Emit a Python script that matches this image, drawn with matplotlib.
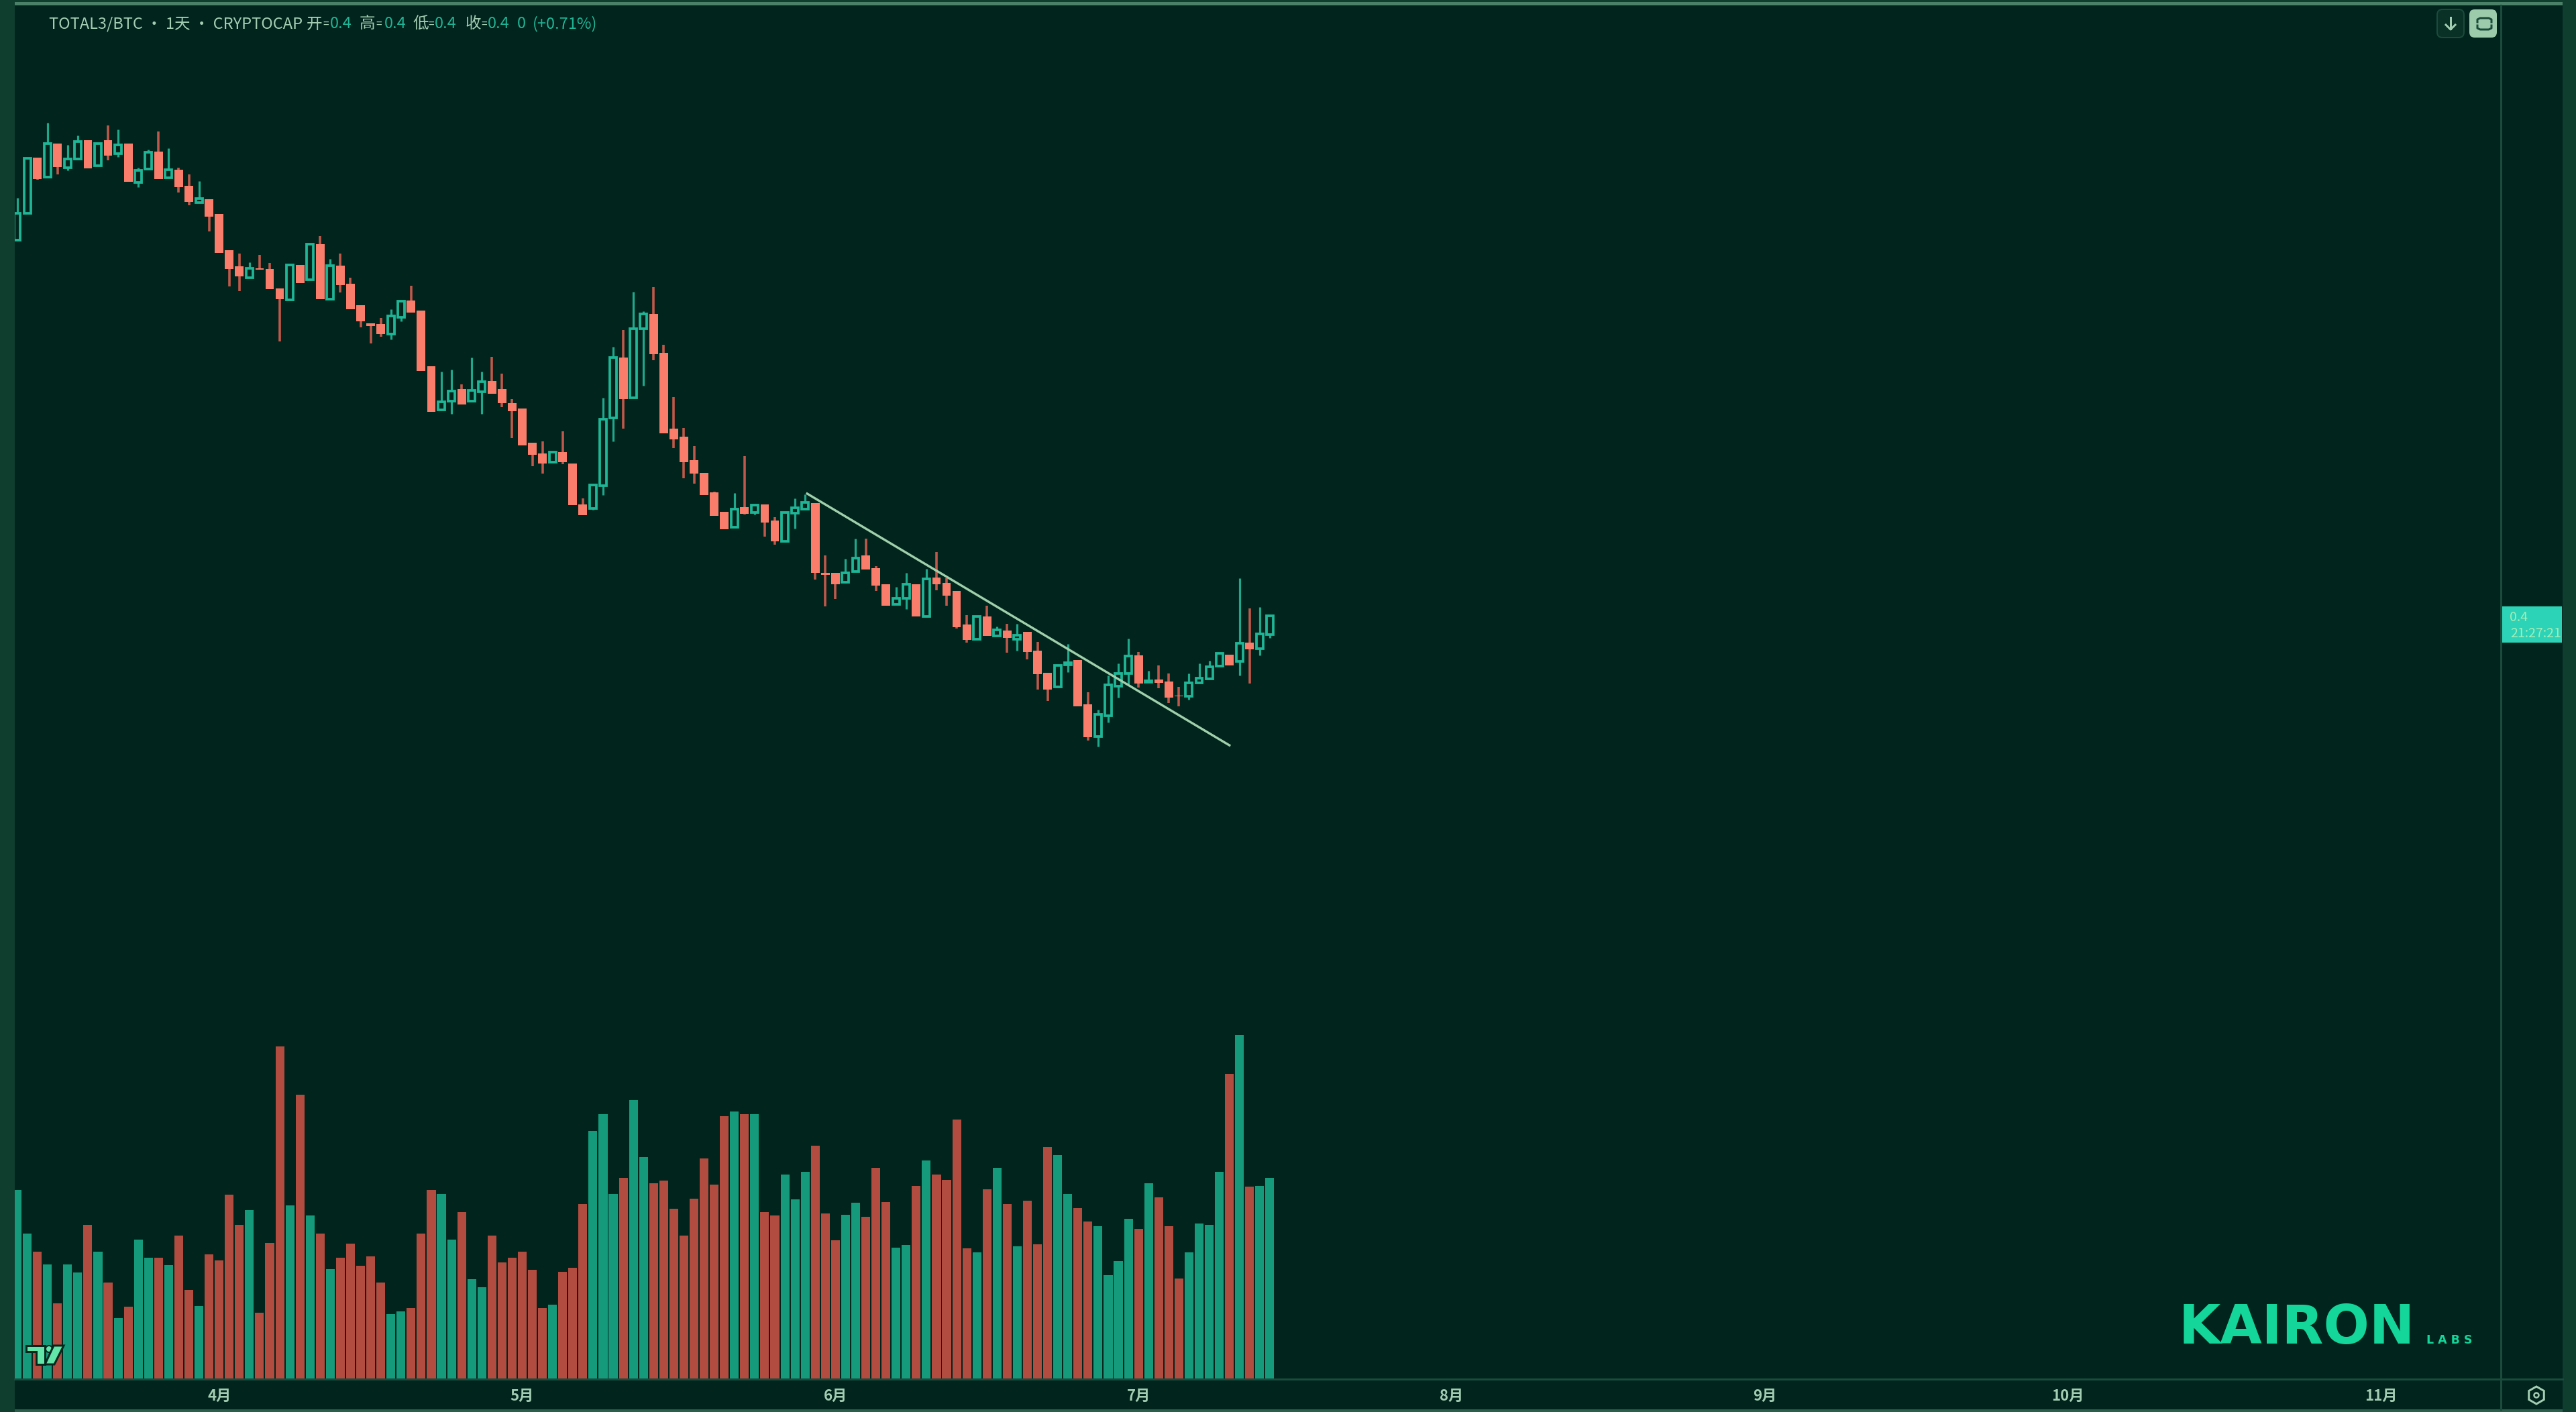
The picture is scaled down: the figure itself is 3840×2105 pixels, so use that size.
import matplotlib
matplotlib.use("Agg")
import matplotlib.pyplot as plt
from matplotlib.patches import Rectangle, FancyBboxPatch, Polygon, RegularPolygon, Circle

plt.rcParams['font.family'] = ['Noto Sans CJK SC', 'DejaVu Sans']

# ---- data: ratio in units of 1e-4 -------------------------------------------
open_ = [4572,4612,4695,4666,4716,4680,4693,4721,4683,4721,4701,4716,4658,4678,4704,4665,4677,4653,4628,4633,
         4611,4557,4533,4516,4530,4529,4500,4483,4535,4513,4566,4484,4534,4507,4475,4448,4447,4432,4457,4482,
         4467,4384,4319,4332,4350,4332,4346,4362,4350,4329,4321,4270,4254,4241,4256,4239,4178,4172,4206,4307,
         4397,4337,4440,4462,4404,4291,4279,4244,4225,4196,4167,4144,4174,4166,4178,4154,4123,4165,4171,4180,
         4076,4076,4062,4078,4102,4083,4059,4029,4038,4059,4011,4069,4061,4049,3999,3977,4011,3982,3990,3977,
         3988,3960,3927,3906,3939,3946,3880,3832,3863,3907,3926,3953,3913,3917,3914,3893,3892,3912,3918,3937,
         3954,3944,3972,3963,3984]
high = [4635,4694,4695,4747,4716,4714,4728,4721,4716,4743,4737,4716,4680,4707,4734,4709,4680,4670,4660,4633,
        4611,4557,4552,4539,4550,4538,4500,4535,4535,4566,4578,4544,4552,4516,4475,4448,4456,4469,4481,4504,
        4467,4384,4376,4379,4357,4397,4376,4398,4373,4335,4321,4270,4272,4256,4287,4239,4187,4207,4337,4413,
        4438,4495,4466,4502,4416,4338,4292,4265,4225,4197,4167,4195,4250,4177,4178,4159,4166,4187,4193,4180,
        4102,4076,4097,4127,4127,4086,4059,4055,4076,4059,4082,4107,4068,4049,4013,4011,4027,3996,4000,4000,
        3988,3973,3927,3938,3970,3946,3898,3872,3923,3941,3978,3958,3930,3938,3926,3906,3926,3941,3945,3956,
        3954,4068,4023,4025,4012]
low = [4572,4612,4662,4666,4670,4676,4693,4679,4683,4691,4696,4659,4651,4678,4663,4665,4643,4624,4628,4585,
       4553,4503,4496,4516,4528,4499,4421,4483,4508,4513,4484,4484,4494,4469,4442,4418,4428,4424,4451,4464,
       4377,4316,4319,4313,4327,4332,4313,4343,4323,4277,4266,4235,4224,4241,4238,4177,4162,4170,4192,4272,
       4291,4337,4355,4393,4284,4262,4217,4209,4192,4161,4141,4144,4163,4163,4130,4118,4123,4142,4171,4066,
       4026,4037,4061,4078,4081,4049,4027,4029,4022,4011,4011,4050,4027,3993,3972,3977,3982,3982,3957,3960,
       3947,3902,3885,3906,3928,3877,3826,3817,3853,3890,3910,3905,3913,3904,3882,3877,3887,3912,3918,3937,
       3938,3923,3911,3953,3979]
close = [4612,4694,4663,4716,4681,4693,4719,4679,4716,4698,4714,4659,4676,4703,4663,4677,4651,4629,4634,4607,
         4553,4529,4518,4530,4528,4499,4484,4535,4508,4566,4484,4534,4505,4469,4451,4444,4432,4459,4481,4464,
         4377,4316,4331,4347,4327,4348,4361,4343,4329,4317,4266,4252,4239,4256,4241,4177,4162,4207,4305,4397,
         4335,4440,4462,4402,4284,4275,4241,4224,4192,4161,4141,4171,4164,4177,4151,4123,4166,4173,4181,4076,
         4073,4059,4076,4098,4081,4057,4027,4038,4059,4011,4067,4059,4042,3995,3976,4011,3982,3991,3979,3983,
         3958,3925,3902,3938,3942,3877,3831,3865,3909,3926,3952,3911,3915,3912,3890,3892,3912,3919,3936,3956,
         3938,3971,3962,3985,4012]
volume = [732,562,492,444,292,444,412,597,492,372,235,280,540,470,470,440,555,345,282,482,
          459,712,597,652,257,527,1285,672,1100,632,562,425,470,524,439,474,372,252,262,275,
          562,730,716,540,645,385,354,555,452,470,492,422,275,287,416,429,677,958,1024,716,
          778,1078,858,756,768,659,554,698,854,752,1017,1035,1024,1024,646,632,791,695,800,902,
          641,536,636,682,628,817,685,508,518,747,844,791,769,1004,505,491,734,817,677,513,
          689,522,897,866,716,662,610,592,402,457,619,580,756,702,592,390,491,602,596,800,
          1180,1330,744,747,778]
month_pos = [20, 50, 81, 111, 142, 173, 203, 234]
month_labels = ['4月', '5月', '6月', '7月', '8月', '9月', '10月', '11月']
trend_x = [78.1, 120.1]
trend_y = [4195, 3818]
header_parts = [('TOTAL3/BTC · 1天 · CRYPTOCAP', 73, 'label'), ('开', 457, 'label'), ('=', 481, 'eq'),
                ('0.4', 492, 'value'), ('高', 536, 'label'), ('=', 560, 'eq'), ('0.4', 573, 'value'),
                ('低', 615, 'label'), ('=', 638, 'eq'), ('0.4', 648, 'value'), ('收', 694, 'label'),
                ('=', 717, 'eq'), ('0.4', 727, 'value'), ('0', 771, 'value'), ('(+0.71%)', 794, 'value')]

# ---- style ------------------------------------------------------------------
W, H = 3840, 2105
BG = '#01241C'
BAND = '#0F3D2E'
AXLINE = '#1A4B3C'
UP = '#1FB596'
UP_WICK = '#1FA88C'
DOWN = '#FA7D6C'
DOWN_WICK = '#C0584B'
VOL_UP = '#159B7C'
VOL_DOWN = '#B34C40'
TXT = '#A3CDB2'
L, R, T, B = 22, 3728, 8, 2056
PX_PER_BAR = 15.06
FIRST_BAR_PX = 25.5
PX = 0.72  # points per pixel at dpi 100

fig = plt.figure(figsize=(W / 100, H / 100), dpi=100, facecolor=BG)
rect = [L / W, (H - B) / H, (R - L) / W, (B - T) / H]
xlim = ((L - FIRST_BAR_PX) / PX_PER_BAR, (R - FIRST_BAR_PX) / PX_PER_BAR)

# volume panel
axv = fig.add_axes(rect, facecolor=BG)
axv.set_xlim(*xlim)
axv.set_ylim(0, (B - T) * 2.592)
idx = list(range(len(close)))
vcol = [VOL_UP if c >= o else VOL_DOWN for o, c in zip(open_, close)]
axv.bar(idx, volume, width=0.87, color=vcol, linewidth=0)
for s in axv.spines.values():
    s.set_visible(False)
axv.set_yticks([])
axv.set_xticks(month_pos)
axv.set_xticklabels(month_labels, color=TXT, fontsize=16, fontweight='bold')
axv.tick_params(axis='x', length=0, pad=10)

# price panel
ax = fig.add_axes(rect, facecolor='none')
ax.set_xlim(*xlim)
ax.set_ylim(4930 - B, 4930 - T)
ax.axis('off')
up = [i for i in idx if close[i] >= open_[i]]
dn = [i for i in idx if close[i] < open_[i]]
ax.vlines(up, [low[i] for i in up], [high[i] for i in up], color=UP_WICK, lw=3.2 * PX, zorder=2)
ax.vlines(dn, [low[i] for i in dn], [high[i] for i in dn], color=DOWN_WICK, lw=3.6 * PX, zorder=2)
ax.bar(up, [close[i] - open_[i] for i in up], bottom=[open_[i] for i in up], width=0.66,
       facecolor=BG, edgecolor=UP, linewidth=3.8 * PX, zorder=3)
ax.bar(dn, [open_[i] - close[i] for i in dn], bottom=[close[i] for i in dn], width=0.85,
       color=DOWN, linewidth=0, zorder=3)
ax.plot(trend_x, trend_y, color='#A0CFAB', lw=3.4 * PX, solid_capstyle='butt', zorder=4)

# chrome overlay in pixel coordinates
ov = fig.add_axes([0, 0, 1, 1], facecolor='none')
ov.set_xlim(0, W)
ov.set_ylim(H, 0)
ov.axis('off')
ov.add_patch(Rectangle((0, 0), L, H, color=BAND, lw=0))
ov.add_patch(Rectangle((3820, 0), 20, H, color=BAND, lw=0))
ov.add_patch(Rectangle((0, 0), W, 2.5, color='#0F3D2E', lw=0))
ov.add_patch(Rectangle((L, 2.5), 3798, 5, color='#4A7F68', lw=0))
ov.add_patch(Rectangle((L, 2101), 3798, 4, color='#2A5F4C', lw=0))
ov.plot([L, 3820], [2056, 2056], color=AXLINE, lw=3 * PX)
ov.plot([R, R], [8, 2101], color=AXLINE, lw=3 * PX)

for s, x, kind in header_parts:
    color = UP if kind == 'value' else TXT
    size = 11 if kind == 'eq' else 17
    ov.text(x, 36, s, color=color, fontsize=size, va='center', ha='left')

# top-right buttons
ov.add_patch(FancyBboxPatch((3637, 18), 32, 34, boxstyle='round,pad=4,rounding_size=8',
                            fc='#0A3126', ec=AXLINE, lw=2 * PX))
ov.plot([3653, 3653], [26, 43], color=TXT, lw=3 * PX)
ov.plot([3646, 3653, 3660], [37, 44, 37], color=TXT, lw=3 * PX)
ov.add_patch(FancyBboxPatch((3685, 18), 33, 34, boxstyle='round,pad=4,rounding_size=8',
                            fc='#9CCBAB', ec='none', lw=0))
ov.plot([3693, 3693, 3697, 3710, 3714, 3714], [33, 29, 27, 27, 29, 33], color='#1B4A3A', lw=3 * PX)
ov.plot([3693, 3693, 3697, 3710, 3714, 3714], [38, 42, 44, 44, 42, 38], color='#1B4A3A', lw=3 * PX)

# last price label
ov.add_patch(Rectangle((3729, 904), 90, 54, color='#2DD3B7', lw=0))
ov.text(3741, 921, '0.4', color='#A4EDB8', fontsize=14, va='center', ha='left')
ov.text(3742, 945, '21:27:21', color='#A4EDB8', fontsize=14, va='center', ha='left')

# gear
ov.add_patch(RegularPolygon((3781, 2080), 6, radius=13, orientation=0, fc='none', ec=TXT, lw=3 * PX))
ov.add_patch(Circle((3781, 2080), 3.5, fc='none', ec=TXT, lw=2.5 * PX))

# logos
ov.text(3248, 2003, 'KAIRON', color='#14D59A', fontsize=58, fontweight='bold', family='DejaVu Sans',
        va='baseline', ha='left')
ov.text(3617, 2003, 'L A B S', color='#14D59A', fontsize=12.5, fontweight='bold', family='DejaVu Sans',
        va='baseline', ha='left')
tv = '#63E5AA'
ov.add_patch(Polygon([(39, 2006), (67, 2006), (67, 2034), (54, 2034), (54, 2015), (39, 2015)],
                     closed=True, fc=tv, ec='#02281E', lw=3 * PX))
ov.add_patch(Circle((73, 2011), 5, fc=tv, ec='#02281E', lw=2 * PX))
ov.add_patch(Polygon([(80, 2006), (95, 2006), (81, 2034), (67, 2034)],
                     closed=True, fc=tv, ec='#02281E', lw=3 * PX))

fig.savefig('out.png', dpi=100, facecolor=BG)
